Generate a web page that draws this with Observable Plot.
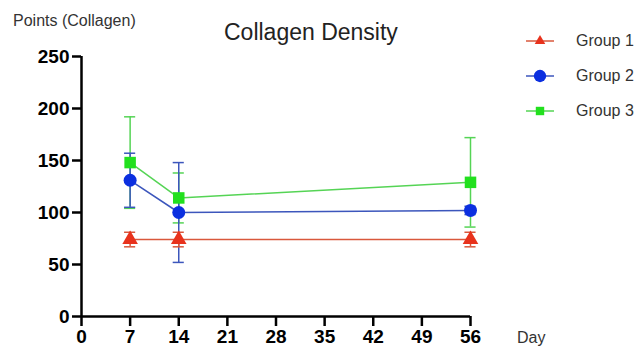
<!DOCTYPE html>
<html>
<head>
<meta charset="utf-8">
<script src="https://cdn.jsdelivr.net/npm/d3@7"></script>
<script src="https://cdn.jsdelivr.net/npm/@observablehq/plot@0.6"></script>
<style>
  html, body { margin: 0; padding: 0; background: #fff; }
  #wrap { position: relative; width: 643px; height: 349px; font-family: "Liberation Sans", Arial, sans-serif; color: #222; }
  #wrap svg { display: block; }
  .lbl { position: absolute; white-space: nowrap; line-height: 1; }
  #legend { position: absolute; left: 524px; top: 23px; }
  .row { display: flex; align-items: center; height: 35px; font-size: 16px; color: #333; }
  .row svg { margin-right: 20px; }
</style>
</head>
<body>
<div id="wrap">
  <div class="lbl" style="left:13px; top:13px; font-size:16px; color:#333;">Points (Collagen)</div>
  <div class="lbl" style="left:224px; top:21px; font-size:23px; color:#222;">Collagen Density</div>
  <div class="lbl" style="left:517px; top:330px; font-size:16px; color:#333;">Day</div>
  <div id="legend"></div>
</div>
<script>
const days = [7, 14, 56];
const groups = ["Group 1", "Group 2", "Group 3"];
const group1Mean = [74, 74, 74];
const group1Err = [7, 7, 7];
const group2Mean = [131, 100, 102];
const group2Err = [26, 48, 4];
const group3Mean = [148, 114, 129];
const group3Err = [44, 24, 43];
const xTicks = [0, 7, 14, 21, 28, 35, 42, 49, 56];
const yTicks = [0, 50, 100, 150, 200, 250];

const lineColors = ["#d9583c", "#3c56bc", "#55d455"];
const markColors = ["#e8321c", "#0b2fe0", "#22e01e"];
const symbols = ["triangle", "circle", "square"];
const sizes = [5.8, 6.5, 6.5];

const means = [group1Mean, group2Mean, group3Mean];
const errs = [group1Err, group2Err, group3Err];
const data = [];
groups.forEach((g, gi) => days.forEach((d, i) => data.push({group: g, gi, day: d, mean: means[gi][i], err: errs[gi][i]})));

const order = [2, 1, 0];
const marks = [];
const capHalf = 0.8;
for (const gi of order) {
  const sub = data.filter(d => d.gi === gi);
  marks.push(Plot.ruleX(sub, {x: "day", y1: d => d.mean - d.err, y2: d => d.mean + d.err, stroke: lineColors[gi], strokeWidth: 1.5}));
  marks.push(Plot.ruleY(sub, {y: d => d.mean + d.err, x1: d => d.day - capHalf, x2: d => d.day + capHalf, stroke: lineColors[gi], strokeWidth: 1.5}));
  marks.push(Plot.ruleY(sub, {y: d => d.mean - d.err, x1: d => d.day - capHalf, x2: d => d.day + capHalf, stroke: lineColors[gi], strokeWidth: 1.5}));
}
for (const gi of order) {
  const sub = data.filter(d => d.gi === gi);
  marks.push(Plot.line(sub, {x: "day", y: "mean", stroke: lineColors[gi], strokeWidth: 1.5}));
}
for (const gi of order) {
  const sub = data.filter(d => d.gi === gi);
  marks.push(Plot.dot(sub, {x: "day", y: "mean", symbol: () => symbols[gi], r: sizes[gi], fill: markColors[gi], stroke: "none"}));
}

const chart = Plot.plot({
  width: 643,
  height: 349,
  marginLeft: 81,
  marginRight: 173,
  marginTop: 56,
  marginBottom: 33,
  style: {fontFamily: "'Liberation Sans', Arial, sans-serif", color: "#000", background: "transparent", overflow: "visible"},
  x: {domain: [0, 56]},
  y: {domain: [0, 250]},
  symbol: {type: "identity"},
  marks: [
    ...marks,
    Plot.ruleX([0], {y1: 0, y2: 250, stroke: "#000", strokeWidth: 2.5}),
    Plot.ruleY([0], {x1: 0, x2: 56, stroke: "#000", strokeWidth: 2.5}),
    Plot.axisY({ticks: yTicks, tickSize: 9, tickPadding: 3, strokeWidth: 2.5, fontSize: 19, fontWeight: "bold", label: null, stroke: "#000", fill: "#000"}),
    Plot.axisX({ticks: xTicks, tickSize: 10, tickPadding: 3, strokeWidth: 2.5, fontSize: 19, fontWeight: "bold", label: null, stroke: "#000", fill: "#000"})
  ]
});
document.getElementById("wrap").prepend(chart);

// legend
const legend = document.getElementById("legend");
const symPaths = {
  triangle: d3.symbol(d3.symbolTriangle2, 80)(),
  circle: d3.symbol(d3.symbolCircle, 120)(),
  square: d3.symbol(d3.symbolSquare2, 90)()
};
groups.forEach((g, gi) => {
  const row = document.createElement("div");
  row.className = "row";
  row.innerHTML = `<svg width="32" height="16" viewBox="-16 -8 32 16"><line x1="-14" x2="14" y1="0" y2="0" stroke="${lineColors[gi]}" stroke-width="1.5"/><path d="${symPaths[symbols[gi]]}" fill="${markColors[gi]}"/></svg><span>${g}</span>`;
  legend.appendChild(row);
});
</script>
</body>
</html>
